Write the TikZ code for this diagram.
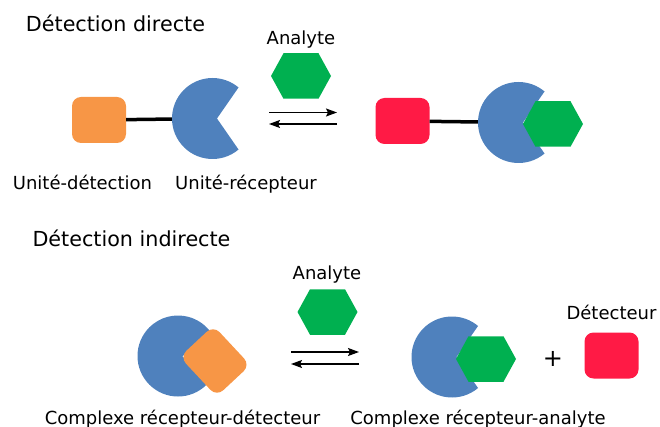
\documentclass[tikz,border=0pt]{standalone}
\usepackage{fontspec}
\setmainfont{DejaVu Sans}
\usepackage{tikz}
\usetikzlibrary{arrows.meta,positioning}
\definecolor{rcblue}{RGB}{79,129,189}
\definecolor{rcorange}{RGB}{247,150,70}
\definecolor{rcgreen}{RGB}{0,176,80}
\definecolor{rcred}{RGB}{255,26,69}
\tikzset{
  rcTitle/.style={anchor=base, inner sep=0pt, font=\fontsize{20.7}{24}\selectfont},
  rcLabel/.style={anchor=base, inner sep=0pt, font=\fontsize{18}{21}\selectfont},
  rcUnit/.style={rounded corners=9pt, minimum width=54pt, minimum height=46pt,
                 inner sep=0pt},
  rcSite/.style={circle, minimum size=81pt, inner sep=0pt},
  rcLink/.style={line width=3.5pt, draw=black},
  rcFwd/.style={-{Stealth[length=11pt,width=8pt,inset=2pt]}, line width=1.3pt},
  pics/receptor/.style={code={\fill[rcblue] (4.5,0) -- (#1:40.5)
                 arc[start angle=#1, end angle=360-#1, radius=40.5] -- cycle;}},
  pics/receptor/.default=50,
  analyte/.pic={\fill[rcgreen] (-30,0) -- (-17.5,22.75) -- (17.5,22.75) -- (30,0)
                -- (17.5,-22.75) -- (-17.5,-22.75) -- cycle;}
}
\begin{document}
\begin{tikzpicture}[x=1pt, y=-1pt]
  \useasboundingbox (0,0) rectangle (660,427);
  % direct detection
  \node[rcTitle] (titA) at (115.5,32) {Détection directe};
  \node[rcUnit, fill=rcorange] (det1) at (99,120) {};
  \node[rcSite] (rec1) at (212.5,118.5) {};
  \draw[rcLink] (det1) -- (rec1);
  \pic at (rec1) {receptor};
  \node[rcLabel] (lab1) at (82.5,190) {Unité-détection};
  \node[rcLabel] (lab2) at (246,190) {Unité-récepteur};
  \node[rcLabel] (anaA) at (301,45) {Analyte};
  \pic at (301,76) {analyte};
  \coordinate (eq1w) at (269,118.5);
  \coordinate (eq1e) at (337,118.5);
  \draw[rcFwd] ([yshift=6pt]eq1w) -- ([yshift=6pt]eq1e);
  \draw[rcFwd] ([yshift=-5.5pt]eq1e) -- ([yshift=-5.5pt]eq1w);
  \node[rcUnit, fill=rcred] (det2) at (402.5,121) {};
  \node[rcSite] (rec2) at (518.5,122.5) {};
  \draw[rcLink] (det2) -- (rec2);
  \pic at (rec2) {receptor};
  \pic at (553,124) {analyte};
  % indirect detection
  \node[rcTitle] (titB) at (131.5,247) {Détection indirecte};
  \node[rcSite] (rec3) at (178,356) {};
  \pic[rotate=-3] at (rec3) {receptor=42};
  \node[rcUnit, fill=rcorange, rotate=-47] (det3) at (215,361) {};
  \node[rcLabel] (lab3) at (182.5,424) {Complexe récepteur-détecteur};
  \node[rcLabel] (anaB) at (327,279) {Analyte};
  \pic at (327.5,312) {analyte};
  \coordinate (eq2w) at (291,358);
  \coordinate (eq2e) at (359,358);
  \draw[rcFwd] ([yshift=6pt]eq2w) -- ([yshift=6pt]eq2e);
  \draw[rcFwd] ([yshift=-6pt]eq2e) -- ([yshift=-6pt]eq2w);
  \node[rcSite] (rec4) at (452,357) {};
  \pic at (rec4) {receptor};
  \pic at (486,359) {analyte};
  \node[inner sep=0pt, font=\fontsize{24}{28}\selectfont] (plus) at (553,358.5) {+};
  \node[rcLabel] (lab4) at (611.5,319) {Détecteur};
  \node[rcUnit, fill=rcred] (det4) at (611.5,355.5) {};
  \node[rcLabel] (lab5) at (478,424) {Complexe récepteur-analyte};
\end{tikzpicture}
\end{document}
